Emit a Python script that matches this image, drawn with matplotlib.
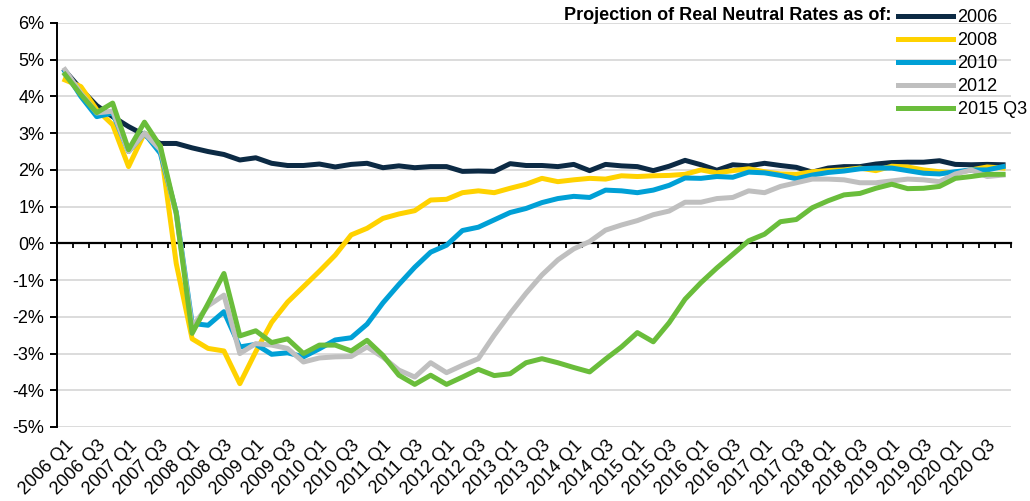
import numpy as np
import matplotlib.pyplot as plt

plt.rcParams['font.family'] = ['Liberation Sans', 'DejaVu Sans']

quarters = [f"{y} Q{q}" for y in range(2006, 2021) for q in range(1, 5)]

rates_2006 = [4.70, 4.20, 3.75, 3.45, 3.18, 2.95, 2.72, 2.72, 2.60, 2.50,
              2.42, 2.27, 2.33, 2.18, 2.12, 2.12, 2.16, 2.08, 2.15, 2.18,
              2.06, 2.11, 2.06, 2.09, 2.09, 1.96, 1.97, 1.96, 2.17, 2.12,
              2.12, 2.09, 2.15, 1.98, 2.15, 2.11, 2.09, 1.98, 2.10, 2.26,
              2.14, 1.99, 2.14, 2.11, 2.18, 2.12, 2.07, 1.94, 2.05, 2.09,
              2.09, 2.16, 2.20, 2.21, 2.21, 2.25, 2.15, 2.14, 2.15, 2.14]
rates_2008 = [4.45, 4.27, 3.64, 3.23, 2.09, 3.00, 2.65, -0.55, -2.60, -2.86,
              -2.93, -3.82, -2.95, -2.15, -1.60, -1.18, -0.76, -0.32, 0.23, 0.41,
              0.68, 0.80, 0.89, 1.18, 1.20, 1.38, 1.43, 1.38, 1.50, 1.61,
              1.77, 1.68, 1.73, 1.77, 1.75, 1.84, 1.82, 1.84, 1.85, 1.88,
              2.00, 1.92, 1.98, 2.03, 1.95, 1.89, 1.88, 1.95, 1.98, 2.00,
              2.05, 1.98, 2.10, 2.08, 2.00, 1.95, 1.92, 2.00, 2.08, 2.05]
rates_2010 = [4.68, 4.00, 3.45, 3.55, 2.50, 3.00, 2.45, 0.85, -2.18, -2.23,
              -1.86, -2.82, -2.75, -3.02, -2.98, -3.09, -2.87, -2.63, -2.57, -2.20,
              -1.62, -1.12, -0.65, -0.24, -0.05, 0.35, 0.44, 0.64, 0.84, 0.95,
              1.11, 1.22, 1.28, 1.25, 1.45, 1.43, 1.38, 1.45, 1.58, 1.78,
              1.77, 1.82, 1.80, 1.94, 1.92, 1.85, 1.76, 1.86, 1.93, 1.97,
              2.03, 2.05, 2.05, 1.98, 1.91, 1.89, 1.95, 2.00, 2.00, 2.09]
rates_2012 = [4.73, 4.09, 3.55, 3.60, 2.50, 3.00, 2.55, 0.80, -2.27, -1.70,
              -1.41, -3.00, -2.73, -2.77, -2.86, -3.23, -3.12, -3.09, -3.08, -2.82,
              -3.10, -3.45, -3.64, -3.25, -3.52, -3.32, -3.14, -2.50, -1.91, -1.36,
              -0.86, -0.45, -0.15, 0.05, 0.36, 0.50, 0.62, 0.78, 0.88, 1.12,
              1.12, 1.22, 1.25, 1.43, 1.38, 1.55, 1.65, 1.75, 1.75, 1.73,
              1.65, 1.65, 1.70, 1.75, 1.73, 1.68, 1.89, 2.00, 1.82, 1.86]
rates_2015q3 = [4.60, 4.05, 3.56, 3.82, 2.55, 3.30, 2.64, 0.82, -2.45, -1.64,
                -0.82, -2.52, -2.38, -2.70, -2.60, -3.00, -2.77, -2.77, -2.93, -2.64,
                -3.05, -3.59, -3.84, -3.59, -3.84, -3.64, -3.43, -3.60, -3.55, -3.25,
                -3.14, -3.25, -3.38, -3.50, -3.15, -2.82, -2.43, -2.68, -2.16, -1.52,
                -1.07, -0.67, -0.30, 0.07, 0.25, 0.59, 0.65, 0.97, 1.16, 1.32,
                1.36, 1.50, 1.61, 1.49, 1.50, 1.55, 1.77, 1.82, 1.88, 1.88]

series_names = ["2006", "2008", "2010", "2012", "2015 Q3"]
series_colors = ["#0c2a44", "#ffd200", "#00a0d6", "#bfbfbf", "#6abd3b"]
y_ticks = list(range(-5, 7))

fig = plt.figure(figsize=(10.3, 5.01), dpi=100)
ax = fig.add_axes([57 / 1030, 1 - 427 / 501, (1011 - 57) / 1030, (427 - 23) / 501])

x = np.arange(len(quarters))
all_series = [rates_2006, rates_2008, rates_2010, rates_2012, rates_2015q3]
for vals, name, color in zip(all_series, series_names, series_colors):
    ax.plot(x, vals, color=color, lw=3.6, label=name, solid_joinstyle='round', zorder=3)

ax.set_xlim(-0.5, len(quarters) - 0.5)
ax.set_ylim(min(y_ticks), max(y_ticks))
ax.set_yticks(y_ticks)
ax.set_yticklabels([f"{t}%" for t in y_ticks], fontsize=13)
ax.yaxis.grid(True, color='#d9d9d9', lw=1.3)
ax.set_axisbelow(True)
ax.tick_params(axis='y', direction='out', length=5, width=1.4, pad=4)

for side in ['top', 'right']:
    ax.spines[side].set_visible(False)
ax.spines['left'].set_linewidth(1.4)

# category axis line sits on 0%, tick marks between quarters
ax.spines['bottom'].set_position(('data', 0))
ax.spines['bottom'].set_linewidth(1.6)
ax.spines['bottom'].set_zorder(2.5)
ax.set_xticks(np.arange(-0.5, len(quarters), 1))
ax.tick_params(axis='x', labelbottom=False, direction='out', length=3.6, width=1.3)

# quarter labels along the bottom of the plot
lab = ax.secondary_xaxis('bottom')
lab.set_xticks(x[::2])
lab.set_xticklabels(quarters[::2], rotation=45, ha='right', rotation_mode='anchor', fontsize=13)
lab.tick_params(axis='x', length=0, pad=7.5)
lab.spines['bottom'].set_visible(False)

fig.legend(loc='upper left', bbox_to_anchor=(898 / 1030, 1 - 9 / 501), frameon=False,
           fontsize=13, handlelength=3.05, handletextpad=0.25, labelspacing=0.33,
           borderpad=0, borderaxespad=0)
fig.text(892 / 1030, 1 - 16 / 501, "Projection of Real Neutral Rates as of:",
         ha='right', va='center', fontsize=13, fontweight='bold')

fig.savefig('out.png', dpi=100)
